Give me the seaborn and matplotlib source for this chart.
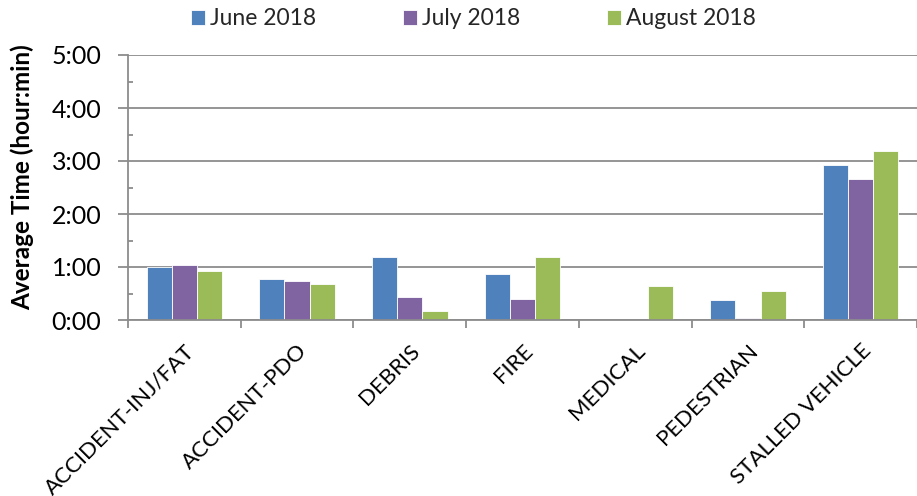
import matplotlib
matplotlib.use("Agg")
import matplotlib.pyplot as plt
import matplotlib.ticker as mticker
import seaborn as sns
import pandas as pd
import numpy as np

categories = ["ACCIDENT-INJ/FAT", "ACCIDENT-PDO", "DEBRIS", "FIRE", "MEDICAL",
              "PEDESTRIAN", "STALLED VEHICLE"]
series_names = ["June 2018", "July 2018", "August 2018"]
# average time in minutes
june_min = [60, 46, 71, 52, 0, 23, 176]
july_min = [62, 44, 26, 24, 0, 2, 160]
august_min = [56, 41, 10, 71, 39, 33, 191]
colors = ["#4F81BD", "#8064A2", "#9BBB59"]
y_tick_hours = [0, 1, 2, 3, 4, 5]

rows = []
for name, vals in zip(series_names, [june_min, july_min, august_min]):
    for c, v in zip(categories, vals):
        rows.append({"Category": c, "Series": name, "Hours": v / 60.0})
df = pd.DataFrame(rows)

sns.set_theme(style="white")
plt.rcParams["font.family"] = ["Lato", "DejaVu Sans"]

fig = plt.figure(figsize=(9.17, 4.96), dpi=100)
ax = fig.add_axes([128 / 917, 1 - 320 / 496, 1 - 128 / 917, (320 - 55) / 496])

sns.barplot(data=df, x="Category", y="Hours", hue="Series", order=categories,
            hue_order=series_names, palette=colors, width=0.67, ax=ax,
            edgecolor="white", linewidth=0.6, saturation=1, legend=True)

ax.set_ylim(0, 5)
ax.set_xlim(-0.5, 6.5 - 5.5 / 113.5)
ax.set_yticks(y_tick_hours)
ax.yaxis.set_major_formatter(mticker.FuncFormatter(
    lambda v, p: f"{int(v)}:{int(round((v - int(v)) * 60)):02d}"))
ax.yaxis.set_minor_locator(mticker.MultipleLocator(0.5))
ax.grid(axis="y", color="#8C8C8C", linewidth=1.3)
ax.set_axisbelow(True)

for s in ["top", "right"]:
    ax.spines[s].set_visible(False)
for s in ["left", "bottom"]:
    ax.spines[s].set_color("#8C8C8C")
    ax.spines[s].set_linewidth(1.3)

ax.tick_params(axis="y", which="major", direction="out", length=7.2, width=1.3,
               color="#8C8C8C", left=True, labelsize=18, pad=12, labelcolor="black")
ax.tick_params(axis="y", which="minor", direction="in", length=3.6, width=1.3,
               color="#8C8C8C", left=True)
ax.set_xticks(np.arange(-0.5, 7, 1.0), minor=True)
ax.tick_params(axis="x", which="minor", direction="out", length=5.8, width=1.3,
               color="#8C8C8C", bottom=True)
ax.tick_params(axis="x", which="major", length=0, pad=15, labelsize=16,
               labelcolor="black")
for lab in ax.get_xticklabels():
    lab.set_rotation(45)
    lab.set_ha("right")
    lab.set_va("top")
    lab.set_rotation_mode("anchor")

ax.set_xlabel("")
ax.set_ylabel("Average Time (hour:min)", fontsize=17.5, fontweight="bold",
              color="black")
ax.yaxis.set_label_coords((34 - 128) / 789, (320 - 177.5) / 265)

handles, labels = ax.get_legend_handles_labels()
ax.get_legend().remove()
fig.legend(handles, labels, loc="center", bbox_to_anchor=(0.516, 0.962), ncol=3,
           frameon=False, fontsize=16.5, handlelength=0.6, handleheight=0.6,
           handletextpad=0.22, columnspacing=3.8)

fig.savefig("out.png", dpi=100)
